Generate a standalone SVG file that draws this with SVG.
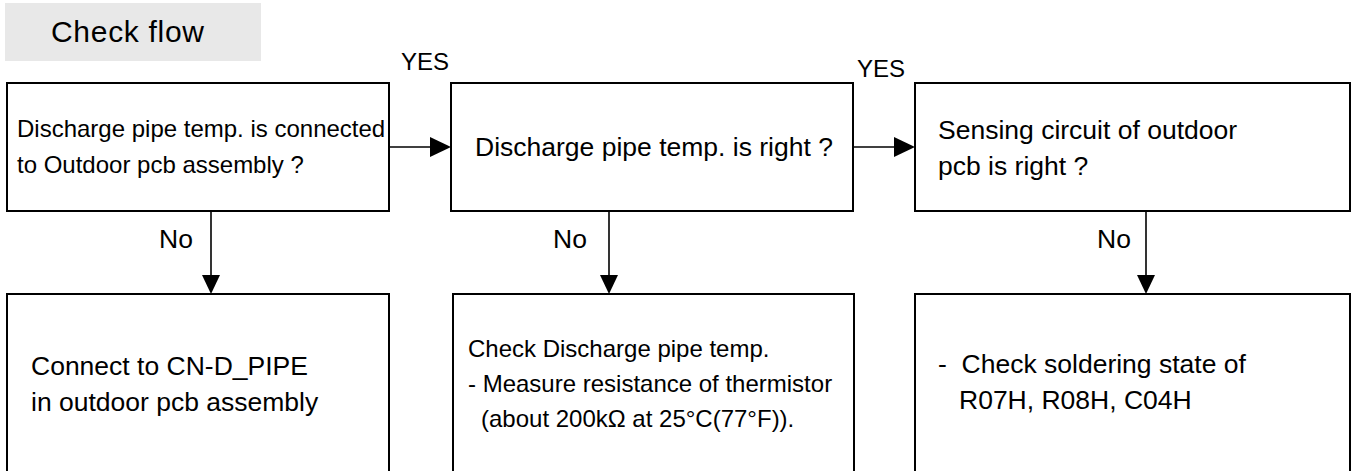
<svg xmlns="http://www.w3.org/2000/svg" width="1351" height="471" viewBox="0 0 1351 471">
<defs>
<style>
text{font-family:"Liberation Sans",Arial,Helvetica,sans-serif;fill:#000;}
.t{font-size:24px;}
.b{font-size:26.5px;}
.box{fill:#fff;stroke:#000;stroke-width:2;}
.ln{stroke:#000;stroke-width:1.6;fill:none;}
.ah{fill:#000;}
</style>
</defs>
<rect x="0" y="0" width="1351" height="471" fill="#fff"/>
<g id="title">
<rect x="5" y="3" width="256" height="58" fill="#e8e8e8"/>
<text x="51" y="42" font-size="30" letter-spacing="0.7">Check flow</text>
</g>
<g id="n1">
<rect class="box" x="7" y="83" width="382" height="128"/>
<text class="t" x="17" y="137">Discharge pipe temp. is connected</text>
<text class="t" x="17" y="173">to Outdoor pcb assembly ?</text>
</g>
<g id="n2">
<rect class="box" x="451" y="83" width="402" height="128"/>
<text class="b" x="475" y="156">Discharge pipe temp. is right ?</text>
</g>
<g id="n3">
<rect class="box" x="915" y="83" width="435" height="128"/>
<text class="b" x="938" y="139">Sensing circuit of outdoor</text>
<text class="b" x="938" y="175">pcb is right ?</text>
</g>
<g id="n4">
<rect class="box" x="7" y="294" width="382" height="200"/>
<text class="b" x="31" y="375">Connect to CN-D_PIPE</text>
<text class="b" x="31" y="411">in outdoor pcb assembly</text>
</g>
<g id="n5">
<rect class="box" x="453" y="294" width="401" height="200"/>
<text class="t" x="468" y="357">Check Discharge pipe temp.</text>
<text class="t" x="468" y="392">- Measure resistance of thermistor</text>
<text class="t" x="481" y="427">(about 200kΩ at 25°C(77°F)).</text>
</g>
<g id="n6">
<rect class="box" x="915" y="294" width="435" height="200"/>
<text class="b" x="938" y="373" xml:space="preserve">-  Check soldering state of</text>
<text class="b" x="959" y="409">R07H, R08H, C04H</text>
</g>
<g id="connectors">
<line class="ln" x1="389" y1="147" x2="432" y2="147"/>
<polygon class="ah" points="430,137 451,147 430,157"/>
<text class="t" x="401" y="70">YES</text>
<line class="ln" x1="853" y1="147" x2="896" y2="147"/>
<polygon class="ah" points="894,137 915,147 894,157"/>
<text class="t" x="857" y="77">YES</text>
<line class="ln" x1="211" y1="211" x2="211" y2="277"/>
<polygon class="ah" points="202,275 220,275 211,294"/>
<text class="b" x="159" y="248">No</text>
<line class="ln" x1="609" y1="211" x2="609" y2="277"/>
<polygon class="ah" points="600,275 618,275 609,294"/>
<text class="b" x="553" y="248">No</text>
<line class="ln" x1="1146" y1="211" x2="1146" y2="277"/>
<polygon class="ah" points="1137,275 1155,275 1146,294"/>
<text class="b" x="1097" y="248">No</text>
</g>
</svg>
